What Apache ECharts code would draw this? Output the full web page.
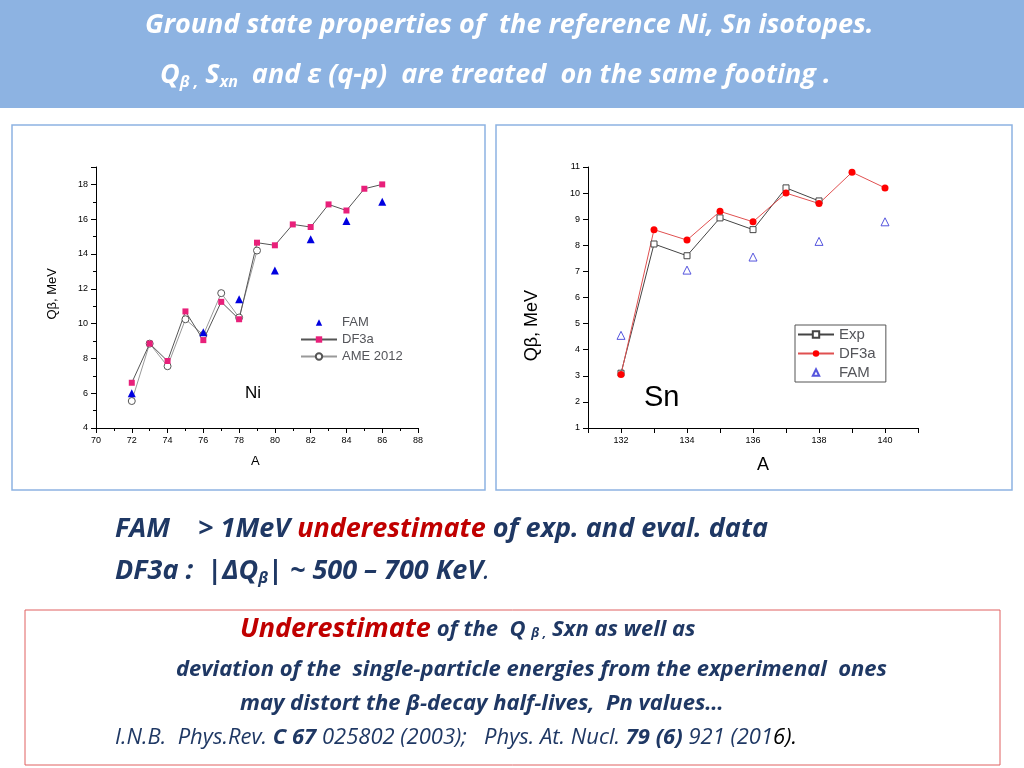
<!DOCTYPE html>
<html><head><meta charset="utf-8">
<script src="https://cdn.jsdelivr.net/npm/echarts@6/dist/echarts.min.js"></script>
<style>html,body{margin:0;padding:0;background:#fff}#c{width:1024px;height:768px}</style>
</head><body><div id="c"></div>
<script>
const niFAM=[[72,6.0],[76,9.5],[78,11.4],[80,13.05],[82,14.85],[84,15.9],[86,17.0]];
const niDF3a=[[72,6.6],[73,8.85],[74,7.85],[75,10.7],[76,9.05],[77,11.25],[78,10.25],[79,14.65],[80,14.5],[81,15.7],[82,15.55],[83,16.85],[84,16.5],[85,17.75],[86,18.0]];
const niAME=[[72,5.55],[73,8.85],[74,7.55],[75,10.25],[76,9.35],[77,11.75],[78,10.35],[79,14.2]];
const snExp=[[132,3.1],[133,8.05],[134,7.6],[135,9.05],[136,8.6],[137,10.2],[138,9.7]];
const snDF3a=[[132,3.05],[133,8.6],[134,8.2],[135,9.3],[136,8.9],[137,10.0],[138,9.6],[139,10.8],[140,10.2]];
const snFAM=[[132,4.55],[134,7.05],[136,7.55],[138,8.15],[140,8.9]];
const ch=echarts.init(document.getElementById('c'));
const ax={axisLine:{show:true,lineStyle:{color:'#000'}},axisTick:{inside:false,lineStyle:{color:'#000'}},axisLabel:{color:'#000',fontSize:9,fontFamily:'Liberation Sans'},splitLine:{show:false},minorTick:{show:true,splitNumber:2,lineStyle:{color:'#000'}}};
const F='"Open Sans"';
const navy='#1F3864';
ch.setOption({
 animation:false,
 graphic:[
  {type:'rect',shape:{x:0,y:0,width:1024,height:108},style:{fill:'#8DB3E2'}},
  {type:'text',left:145,top:12,style:{text:'Ground state properties of  the reference Ni, Sn isotopes.',font:'bold italic 27px '+F,fill:'#fff'}},
  {type:'text',left:160,top:62,style:{text:'{a|Q}{s|β ,}{a| S}{s|xn}{a|  and ε (q-p)  are treated  on the same footing .}',rich:{a:{font:'bold italic 27px '+F,fill:'#fff'},s:{font:'bold italic 16px '+F,fill:'#fff',padding:[14,0,0,0]}}}},
  {type:'rect',shape:{x:12,y:125,width:473,height:365},style:{fill:'none',stroke:'#8DB3E2',lineWidth:1.5}},
  {type:'rect',shape:{x:496,y:125,width:516,height:365},style:{fill:'none',stroke:'#8DB3E2',lineWidth:1.5}},
  {type:'text',left:245,top:385,style:{text:'Ni',font:'17px "Liberation Sans"',fill:'#000'}},
  {type:'text',left:644,top:383,style:{text:'Sn',font:'29px "Liberation Sans"',fill:'#000'}},
  {type:'text',left:251,top:455,style:{text:'A',font:'13px "Liberation Sans"',fill:'#000'}},
  {type:'text',left:757,top:456,style:{text:'A',font:'18px "Liberation Sans"',fill:'#000'}},
  {type:'text',left:46,top:268,rotation:Math.PI/2,style:{text:'Qβ, MeV',font:'13px "Liberation Sans"',fill:'#000'}},
  {type:'text',left:523,top:290,rotation:Math.PI/2,style:{text:'Qβ, MeV',font:'18px "Liberation Sans"',fill:'#000'}},
  {type:'text',left:115,top:516,style:{text:'{a|FAM    > 1MeV }{r|underestimate}{a| of exp. and eval. data}',rich:{a:{font:'bold italic 27px '+F,fill:navy},r:{font:'bold italic 27px '+F,fill:'#C00000'}}}},
  {type:'text',left:115,top:558,style:{text:'{a|DF3a :  |ΔQ}{s|β}{a|| ~ 500 – 700 KeV}{b|.}',rich:{a:{font:'bold italic 27px '+F,fill:navy},s:{font:'bold italic 16px '+F,fill:navy,padding:[14,0,0,0]},b:{font:'italic 27px '+F,fill:navy}}}},
  {type:'rect',shape:{x:25,y:610,width:975,height:155},style:{fill:'none',stroke:'#E06060',lineWidth:1}},
  {type:'text',left:240,top:616,style:{text:'{r|Underestimate}{a| of the  Q }{s|β ,}{a| Sxn as well as}',rich:{r:{font:'bold italic 27px '+F,fill:'#C00000'},a:{font:'bold italic 22px '+F,fill:navy},s:{font:'bold italic 13px '+F,fill:navy,padding:[8,0,0,0]}}}},
  {type:'text',left:176,top:659,style:{text:'deviation of the  single-particle energies from the experimenal  ones',font:'bold italic 22px '+F,fill:navy}},
  {type:'text',left:240,top:693,style:{text:'may distort the β-decay half-lives,  Pn values…',font:'bold italic 22px '+F,fill:navy}},
  {type:'text',left:115,top:727,style:{text:'{a|I.N.B.  Phys.Rev. }{b|C 67}{a| 025802 (2003);   Phys. At. Nucl. }{b|79 (6)}{a| 921 (201}{k|6).}',rich:{a:{font:'italic 22px '+F,fill:navy},b:{font:'bold italic 22px '+F,fill:navy},k:{font:'italic 22px '+F,fill:'#000'}}}}
 ],
 grid:[{left:96,top:167,width:322,height:261},{left:588,top:167,width:330,height:261}],
 xAxis:[
  Object.assign({gridIndex:0,type:'value',min:70,max:88,interval:2},ax),
  Object.assign({gridIndex:1,type:'value',min:131,max:141,interval:1},ax,{axisLabel:{color:'#000',fontSize:9,fontFamily:'Liberation Sans',formatter:v=>v%2===0?v:''},minorTick:{show:false}})
 ],
 yAxis:[
  Object.assign({gridIndex:0,type:'value',min:4,max:19,interval:2},ax,{axisLabel:{color:'#000',fontSize:9,formatter:v=>v<=18?v:''}}),
  Object.assign({gridIndex:1,type:'value',min:1,max:11,interval:1},ax,{minorTick:{show:false}})
 ],
 legend:[
  {left:295,top:311,orient:'vertical',itemGap:4,itemWidth:36,itemHeight:8,textStyle:{fontSize:13,fontFamily:'Liberation Sans'},data:['FAM','DF3a','AME 2012']},
  {left:795,top:325,orient:'vertical',itemGap:4,itemWidth:36,itemHeight:8,textStyle:{fontSize:15,fontFamily:'Liberation Sans'},borderColor:'#555',borderWidth:1,padding:[2,6,2,2],data:['Exp','DF3a ','FAM ']}
 ],
 series:[
  {name:'AME 2012',type:'line',xAxisIndex:0,yAxisIndex:0,data:niAME,symbol:'circle',symbolSize:7,itemStyle:{color:'#fff',borderColor:'#555',borderWidth:1},lineStyle:{color:'#999',width:1}},
  {name:'DF3a',type:'line',xAxisIndex:0,yAxisIndex:0,data:niDF3a,symbol:'rect',symbolSize:6,itemStyle:{color:'#E8207A'},lineStyle:{color:'#555',width:1}},
  {name:'FAM',type:'line',xAxisIndex:0,yAxisIndex:0,data:niFAM,symbol:'triangle',symbolSize:8,showAllSymbol:true,itemStyle:{color:'#0000E0'},lineStyle:{color:'#777',width:1,opacity:0}},
  {name:'Exp',type:'line',xAxisIndex:1,yAxisIndex:1,data:snExp,symbol:'rect',symbolSize:6,itemStyle:{color:'#fff',borderColor:'#444',borderWidth:1},lineStyle:{color:'#444',width:1}},
  {name:'DF3a ',type:'line',xAxisIndex:1,yAxisIndex:1,data:snDF3a,symbol:'circle',symbolSize:7,itemStyle:{color:'#F00'},lineStyle:{color:'#E05050',width:1}},
  {name:'FAM ',type:'line',xAxisIndex:1,yAxisIndex:1,data:snFAM,symbol:'triangle',symbolSize:8,itemStyle:{color:'#fff',borderColor:'#5555DD',borderWidth:1},lineStyle:{color:'#5555DD',width:1,opacity:0}}
 ]
});
</script></body></html>
